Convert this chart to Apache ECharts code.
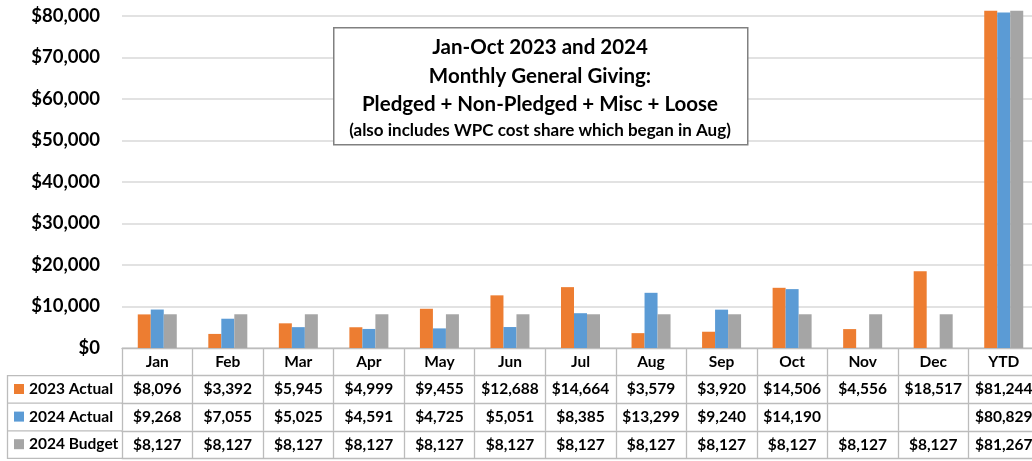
<!DOCTYPE html>
<html>
<head>
<meta charset="utf-8">
<script src="https://cdn.jsdelivr.net/npm/echarts@6/dist/echarts.min.js"></script>
<style>
    html, body { margin: 0; padding: 0; background: #fff; }
    #chart { width: 1032px; height: 461px; }
</style>
</head>
<body>
<div id="chart"></div>
<script>
var categories = ['Jan', 'Feb', 'Mar', 'Apr', 'May', 'Jun', 'Jul', 'Aug', 'Sep', 'Oct', 'Nov', 'Dec', 'YTD'];
var actual2023 = [8096, 3392, 5945, 4999, 9455, 12688, 14664, 3579, 3920, 14506, 4556, 18517, 81244];
var actual2024 = [9268, 7055, 5025, 4591, 4725, 5051, 8385, 13299, 9240, 14190, null, null, 80829];
var budget2024 = [8127, 8127, 8127, 8127, 8127, 8127, 8127, 8127, 8127, 8127, 8127, 8127, 81267];
var seriesNames = ['2023 Actual', '2024 Actual', '2024 Budget'];
var titleLines = [
    'Jan-Oct 2023 and 2024',
    'Monthly General Giving:',
    'Pledged + Non-Pledged + Misc + Loose',
    '(also includes WPC cost share which began in Aug)'
];

var font = 'Lato, "Open Sans", sans-serif';
var lineColor = '#bcbcbc';
var rowH = 27.6;

function money(v) {
    if (v === null || v === undefined) return '';
    return '$' + v.toLocaleString('en-US');
}

// one x axis per table row, stacked under the plot
function tableAxis(offset, values) {
    return {
        type: 'category',
        data: categories,
        position: 'bottom',
        offset: offset,
        axisLine: { show: true, lineStyle: { color: lineColor, width: 1.3 } },
        axisTick: {
            show: values !== false,
            interval: 0,
            length: rowH,
            lineStyle: { color: lineColor, width: 1.3 }
        },
        axisLabel: {
            show: values !== false,
            interval: 0,
            margin: rowH / 2,
            verticalAlign: 'middle',
            color: '#000',
            fontFamily: font,
            fontWeight: 'bold',
            fontSize: 15.5,
            formatter: function (val, idx) {
                return values ? money(values[idx]) : val;
            }
        },
        splitLine: { show: false }
    };
}

var myChart = echarts.init(document.getElementById('chart'));
var option = {
    animation: false,
    color: ['#ED7D31', '#5B9BD5', '#A5A5A5'],
    grid: {
        left: 122,
        right: -7,
        top: -25.5,
        bottom: 113,
        containLabel: false,
        outerBoundsMode: 'none'
    },
    legend: {
        orient: 'vertical',
        left: 14,
        top: 380,
        padding: 0,
        itemWidth: 10,
        itemHeight: 10,
        itemGap: rowH - 18,
        icon: 'rect',
        data: seriesNames,
        textStyle: {
            color: '#000',
            fontFamily: font,
            fontWeight: 'bold',
            fontSize: 15.5,
            lineHeight: 18
        }
    },
    xAxis: [
        tableAxis(0, null),
        tableAxis(rowH, actual2023),
        tableAxis(rowH * 2, actual2024),
        tableAxis(rowH * 3, budget2024),
        tableAxis(rowH * 4, false)
    ],
    yAxis: {
        type: 'value',
        min: 0,
        max: 90000,
        interval: 10000,
        axisLine: { show: false },
        axisTick: { show: false },
        axisLabel: {
            margin: 22,
            color: '#000',
            fontFamily: font,
            fontWeight: 'bold',
            fontSize: 18.5,
            formatter: function (v) { return money(v); }
        },
        splitLine: { lineStyle: { color: '#d9d9d9', width: 1.5 } }
    },
    series: [
        { name: seriesNames[0], type: 'bar', data: actual2023, barWidth: 13, barGap: '0%' },
        { name: seriesNames[1], type: 'bar', data: actual2024, barWidth: 13, barGap: '0%' },
        { name: seriesNames[2], type: 'bar', data: budget2024, barWidth: 13, barGap: '0%' }
    ],
    graphic: [
        // left cell borders of the data table
        {
            type: 'polyline',
            silent: true,
            shape: { points: [[122, 348 + rowH], [7.5, 348 + rowH], [7.5, 348 + rowH * 4], [122, 348 + rowH * 4]] },
            style: { stroke: lineColor, lineWidth: 1.3, fill: null }
        },
        {
            type: 'line', silent: true,
            shape: { x1: 7.5, y1: 348 + rowH * 2, x2: 122, y2: 348 + rowH * 2 },
            style: { stroke: lineColor, lineWidth: 1.3 }
        },
        {
            type: 'line', silent: true,
            shape: { x1: 7.5, y1: 348 + rowH * 3, x2: 122, y2: 348 + rowH * 3 },
            style: { stroke: lineColor, lineWidth: 1.3 }
        },
        // title box
        {
            type: 'rect',
            left: 333,
            top: 27,
            z: 10,
            shape: { width: 414, height: 117 },
            style: { fill: '#fff', stroke: '#808080', lineWidth: 1.5 }
        },
        {
            type: 'text',
            x: 540,
            y: 33.5,
            z: 11,
            style: {
                text: '{a|' + titleLines[0] + '}\n{a|' + titleLines[1] + '}\n{a|' + titleLines[2] + '}\n{b|' + titleLines[3] + '}',
                align: 'center',
                verticalAlign: 'top',
                fill: '#000',
                rich: {
                    a: { fontFamily: font, fontWeight: 'bold', fontSize: 20.5, lineHeight: 28.5, align: 'center', fill: '#000' },
                    b: { fontFamily: font, fontWeight: 'bold', fontSize: 17, lineHeight: 24, align: 'center', fill: '#000' }
                }
            }
        }
    ]
};
myChart.setOption(option);
</script>
</body>
</html>
